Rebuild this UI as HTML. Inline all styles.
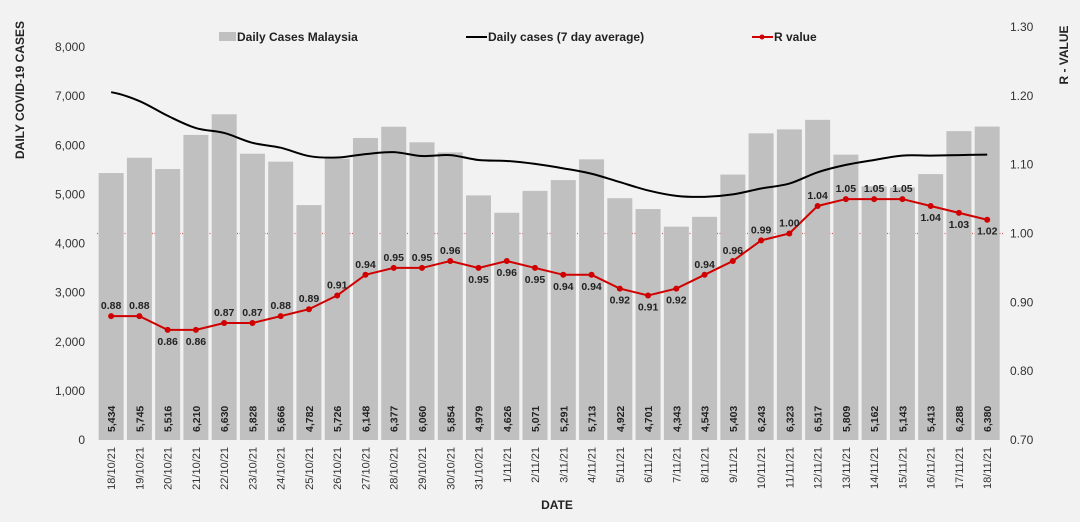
<!DOCTYPE html>
<html><head><meta charset="utf-8"><style>
body{margin:0;background:#f2f2f2;}
svg{display:block;font-family:"Liberation Sans",sans-serif;}
</style></head><body>
<svg id="chart" width="1080" height="522" viewBox="0 0 1080 522">
<rect x="0" y="0" width="1080" height="522" fill="#f2f2f2"/>
<g id="g-grid"></g><g id="g-bars"></g><g id="g-lines"></g><g id="g-labels"></g>
<text transform="translate(24,90) rotate(-90)" text-anchor="middle" font-size="12" font-weight="bold" fill="#222">DAILY COVID-19 CASES</text>
<text transform="translate(1068,55) rotate(-90)" text-anchor="middle" font-size="12" font-weight="bold" fill="#222">R - VALUE</text>
<text x="557" y="509" text-anchor="middle" font-size="12" font-weight="bold" fill="#222">DATE</text>
<g font-size="12" font-weight="bold" fill="#222">
<rect x="219" y="32" width="17" height="9" fill="#c0c0c0"/>
<text x="237" y="41">Daily Cases Malaysia</text>
<line x1="466" y1="37" x2="487" y2="37" stroke="#000" stroke-width="2"/>
<text x="488" y="41">Daily cases (7 day average)</text>
<line x1="752" y1="37" x2="773" y2="37" stroke="#d00000" stroke-width="2"/><circle cx="762" cy="37" r="2.5" fill="#d00000"/>
<text x="774" y="41">R value</text>
</g>
</svg>
<script>
const dates=["18/10/21","19/10/21","20/10/21","21/10/21","22/10/21","23/10/21","24/10/21","25/10/21","26/10/21","27/10/21","28/10/21","29/10/21","30/10/21","31/10/21","1/11/21","2/11/21","3/11/21","4/11/21","5/11/21","6/11/21","7/11/21","8/11/21","9/11/21","10/11/21","11/11/21","12/11/21","13/11/21","14/11/21","15/11/21","16/11/21","17/11/21","18/11/21"];
const cases=[5434,5745,5516,6210,6630,5828,5666,4782,5726,6148,6377,6060,5854,4979,4626,5071,5291,5713,4922,4701,4343,4543,5403,6243,6323,6517,5809,5162,5143,5413,6288,6380];
const avg7=[7080,6900,6600,6350,6250,6050,5950,5780,5750,5820,5860,5780,5800,5700,5680,5620,5530,5420,5250,5080,4970,4950,5000,5120,5220,5450,5600,5700,5790,5790,5800,5810];
const rvals=[0.88,0.88,0.86,0.86,0.87,0.87,0.88,0.89,0.91,0.94,0.95,0.95,0.96,0.95,0.96,0.95,0.94,0.94,0.92,0.91,0.92,0.94,0.96,0.99,1.00,1.04,1.05,1.05,1.05,1.04,1.03,1.02];
const leftTicks=[0,1000,2000,3000,4000,5000,6000,7000,8000];
const rightTicks=[0.70,0.80,0.90,1.00,1.10,1.20,1.30];
const NS="http://www.w3.org/2000/svg";
const x0=97,step=28.26,bw=25,yB=440;
const xC=i=>x0+step*i+step/2;
const yL=v=>yB-v*(393/8000);
const yR=v=>yB-(v-0.7)*(413/0.6);
function mk(tag,attrs,parent,txt){const e=document.createElementNS(NS,tag);for(const k in attrs)e.setAttribute(k,attrs[k]);if(txt!==undefined)e.textContent=txt;document.getElementById(parent).appendChild(e);return e;}
const fmt=n=>n.toLocaleString('en-US');
leftTicks.forEach(t=>{const e=mk('text',{x:85,y:yL(t)+4,'text-anchor':'end','font-size':12,fill:'#333'},'g-grid',fmt(t));

});
rightTicks.forEach(t=>{const e=mk('text',{x:1010,y:yR(t)+4,'font-size':12,fill:'#333'},'g-grid',t.toFixed(2));

});
const ref=mk('line',{x1:x0,x2:1003,y1:yR(1.0),y2:yR(1.0),stroke:'#d06060','stroke-width':1.2,'stroke-dasharray':'1,1.5'},'g-grid');


cases.forEach((v,i)=>{const b=mk('rect',{x:xC(i)-bw/2,y:yL(v),width:bw,height:yB-yL(v),fill:'#c0c0c0'},'g-bars');


const t=mk('text',{transform:`translate(${xC(i)+4},432) rotate(-90)`,'font-size':10.5,'font-weight':'bold',fill:'#222'},'g-labels',fmt(v));


const d=mk('text',{transform:`translate(${xC(i)+4},447) rotate(-90)`,'text-anchor':'end','font-size':11,fill:'#333'},'g-labels',dates[i]);

});
let p='';avg7.forEach((v,i)=>{const X=xC(i),Y=yL(v);if(i===0)p+=`M${X},${Y}`;else{const pX=xC(i-1),pY=yL(avg7[i-1]);p+=` C${pX+step/3},${pY+(Y-(i>1?yL(avg7[i-2]):pY))/6} ${X-step/3},${Y-((i<avg7.length-1?yL(avg7[i+1]):Y)-pY)/6} ${X},${Y}`;}});
const al=mk('path',{d:p,fill:'none',stroke:'#000','stroke-width':2},'g-lines');


const rl=mk('polyline',{points:rvals.map((v,i)=>xC(i)+','+yR(v)).join(' '),fill:'none',stroke:'#d00000','stroke-width':2},'g-lines');


const below=new Set([2,3,13,14,15,16,17,18,19,20,29,30,31]);
rvals.forEach((v,i)=>{const c=mk('circle',{cx:xC(i),cy:yR(v),r:3,fill:'#d00000'},'g-lines');


const above=!below.has(i);
const t=mk('text',{x:xC(i),y:above?yR(v)-7:yR(v)+15,'text-anchor':'middle','font-size':10.5,'font-weight':'bold',fill:'#222'},'g-labels',v.toFixed(2));

});
</script>
</body></html>
